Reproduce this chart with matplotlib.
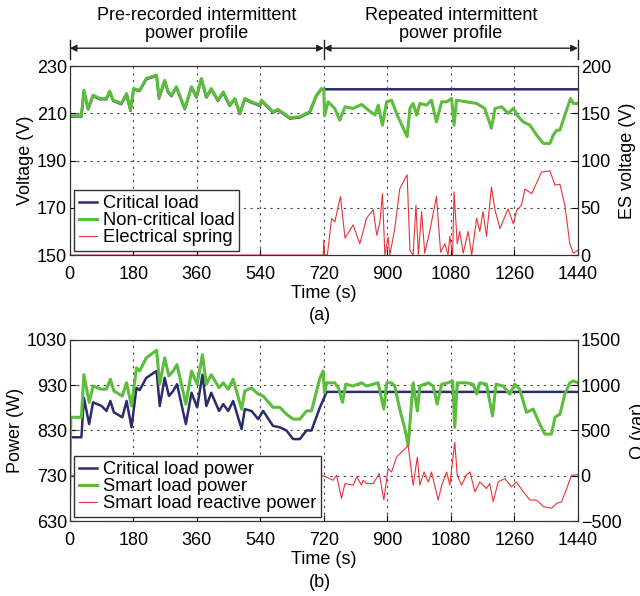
import matplotlib
matplotlib.use('Agg')
import matplotlib.pyplot as plt

plt.rcParams['font.family'] = ['Liberation Sans', 'DejaVu Sans']
plt.rcParams['font.size'] = 13

NAVY = '#2b2d6b'
GREEN = '#5cbc3c'
RED = '#e8323a'

# (a) voltages
t_nc = [0, 33, 40, 52, 66, 85, 104, 113, 123, 146, 161, 172, 181, 198, 217, 246, 253, 269, 279, 288,
        302, 326, 345, 359, 373, 387, 401, 420, 435, 453, 468, 482, 496, 515, 539, 543, 576, 590, 624,
        652, 680, 699, 713, 720,
        722, 732, 751, 765, 780, 803, 827, 846, 865, 874, 886, 898, 912, 926, 956, 964, 973, 983, 992,
        1011, 1025, 1039, 1054, 1068, 1082, 1089, 1096, 1124, 1153, 1176, 1195, 1205, 1224, 1242, 1257,
        1271, 1285, 1304, 1323, 1342, 1361, 1370, 1380, 1389, 1403, 1419, 1427, 1440]
v_nc = [209, 209, 219.8, 212, 217.7, 216.3, 216.3, 219.4, 215.6, 214.2, 218.4, 211.4, 220.5, 219.8, 224.8,
        226.2, 216.6, 224, 219.1, 217.6, 221.3, 212.1, 221.3, 217, 224.8, 217, 220.5, 215.6, 219.1, 213.5,
        216.3, 210, 216.3, 214.9, 213.5, 215.6, 210.7, 211.7, 208.1, 208.6, 210.7, 217.7, 220.5, 220.2,
        209, 214.9, 212.1, 207.1, 212.8, 212.1, 213.8, 211.4, 209.3, 213.5, 205, 214.9, 215.6, 210, 200.1,
        212.1, 214.2, 209.3, 214.2, 213.5, 215.6, 206.4, 214.9, 214.9, 216.3, 205, 215.6, 214.9, 214.2,
        212.1, 203.7, 212.1, 212.8, 210, 212.1, 208.6, 206.4, 205, 200.8, 197.3, 197.3, 200.8, 202.9,
        202.9, 209.3, 216.3, 214.2, 214.2]

t_cv = [0, 33, 40, 52, 66, 85, 104, 113, 123, 146, 161, 172, 181, 198, 217, 246, 253, 269, 279, 288,
        302, 326, 345, 359, 373, 387, 401, 420, 435, 453, 468, 482, 496, 515, 539, 543, 576, 590, 624,
        652, 680, 699, 713, 720, 1440]
v_cv = [208.7, 208.7, 219.5, 211.7, 217.4, 216, 216, 219.1, 215.3, 213.9, 218.1, 211.1, 220.2, 219.5, 224.5,
        225.9, 216.3, 223.7, 218.8, 217.3, 221, 211.8, 221, 216.7, 224.5, 216.7, 220.2, 215.3, 218.8, 213.2,
        216, 209.7, 216, 214.6, 213.2, 215.3, 210.4, 211.4, 207.8, 208.3, 210.4, 217.4, 220.2, 220.2, 220.2]

t_es = [0, 718, 720, 722, 730, 742, 751, 767, 780, 803, 822, 841, 860, 870, 879, 886, 893, 902, 907, 921,
        935, 956, 964, 973, 981, 988, 997, 1006, 1020, 1039, 1051, 1063, 1072, 1077, 1085, 1089, 1098,
        1105, 1115, 1129, 1139, 1153, 1162, 1171, 1181, 1195, 1205, 1219, 1242, 1257, 1266, 1280, 1290,
        1309, 1337, 1361, 1375, 1389, 1403, 1417, 1427, 1440]
es = [0, 0, 16, 0, 0, 39, 35, 62, 18, 32, 12, 39, 48, 21, 35, 65, 0, 19, 0, 28, 70, 85, 5, 0, 53, 0, 46, 2,
      25, 62, 3, 12, 0, 20, 0, 67, 12, 25, 2, 25, 0, 39, 25, 46, 20, 72, 48, 28, 49, 33, 47, 53, 70, 65,
      88, 89, 74, 75, 53, 12, 2, 5]

# (b) powers
t_cp = [0, 33, 40, 55, 66, 90, 104, 115, 125, 149, 161, 175, 189, 198, 217, 246, 255, 269, 281, 293, 304,
        329, 345, 361, 376, 387, 401, 423, 435, 449, 463, 487, 496, 515, 534, 548, 576, 595, 614, 633,
        652, 671, 685, 709, 728, 1440]
p_cp = [815, 815, 902, 844, 892, 884, 873, 895, 870, 859, 895, 837, 924, 919, 946, 961, 884, 946, 906, 917,
        932, 844, 913, 881, 953, 884, 913, 873, 888, 873, 895, 833, 877, 873, 855, 873, 840, 837, 830, 811,
        811, 830, 830, 881, 915, 915]

t_sp = [0, 3, 33, 40, 55, 66, 90, 104, 115, 125, 149, 161, 175, 189, 198, 217, 246, 255, 269, 281, 293,
        304, 329, 345, 361, 376, 387, 401, 423, 435, 449, 463, 487, 496, 515, 534, 548, 576, 595, 614,
        633, 652, 671, 685, 709, 718, 722, 728, 737, 751, 761, 773, 782, 803, 827, 841, 860, 874, 890,
        898, 912, 921, 935, 950, 959, 973, 985, 992, 1016, 1030, 1041, 1054, 1072, 1085, 1091, 1098,
        1124, 1143, 1153, 1162, 1181, 1198, 1208, 1228, 1247, 1261, 1275, 1294, 1313, 1332, 1346, 1365,
        1375, 1389, 1403, 1417, 1427, 1440]
p_sp = [687, 859, 859, 953, 892, 928, 921, 921, 943, 917, 906, 935, 884, 968, 961, 990, 1007, 932, 990, 950,
        961, 975, 888, 961, 932, 997, 932, 953, 924, 935, 921, 943, 877, 917, 924, 910, 906, 881, 881, 866,
        855, 855, 873, 873, 946, 961, 913, 935, 935, 935, 924, 892, 932, 928, 935, 928, 932, 935, 877,
        935, 935, 928, 877, 833, 797, 935, 873, 928, 935, 928, 888, 932, 935, 939, 837, 935,
        935, 932, 910, 935, 932, 862, 932, 928, 910, 932, 921, 870, 877, 844, 822, 822,
        859, 866, 910, 935, 939, 935]

t_q = [0, 720, 746, 756, 770, 780, 803, 813, 827, 831, 841, 860, 877, 890, 902, 912, 926, 945, 959, 973,
       985, 992, 1004, 1016, 1025, 1044, 1054, 1068, 1077, 1091, 1098, 1110, 1124, 1134, 1148, 1162, 1181,
       1190, 1200, 1214, 1233, 1252, 1266, 1285, 1304, 1323, 1342, 1365, 1380, 1394, 1408, 1422, 1440]
q = [0, 0, -49, 6, -249, -85, -103, -11, -103, -49, -85, -85, 25, -267, 79, 43, 207, 279, 334, -103, 207,
     -103, 43, -67, 43, -267, -103, 43, -103, 371, 6, -103, 6, 43, -176, -67, -140, -85, -285, -67, -30,
     -121, -67, -176, -267, -267, -339, -358, -303, -285, -140, 6, 13]

x_ticks = [0, 180, 360, 540, 720, 900, 1080, 1260, 1440]


def style_axes(ax, ax2):
    ax.set_xlim(0, 1440)
    ax.set_xticks(x_ticks)
    ax.grid(True, color='#444444', linestyle=(0, (2, 4)), linewidth=0.8)
    for a in (ax, ax2):
        a.tick_params(direction='in', length=4, pad=2)
        for s in a.spines.values():
            s.set_color('#333333')
    ax.tick_params(axis='x', pad=8)
    ax.set_xlabel('Time (s)', labelpad=1)


def add_legend(ax2, handles):
    leg = ax2.legend(handles=handles, loc='lower left', fontsize=13.2, handlelength=1.0,
                     handletextpad=0.3, labelspacing=0.0, borderpad=0.25, borderaxespad=0.25,
                     fancybox=False, framealpha=1, edgecolor='#333333')
    leg.get_frame().set_linewidth(1.0)


fig = plt.figure(figsize=(6.4, 5.96), dpi=100)

# (a)
ax1 = fig.add_axes([0.109, 0.572, 0.794, 0.317])
ax1b = ax1.twinx()
h1, = ax1.plot(t_cv, v_cv, color=NAVY, lw=1.8, label='Critical load')
h2, = ax1.plot(t_nc, v_nc, color=GREEN, lw=2.2, label='Non-critical load')
h3, = ax1b.plot(t_es, es, color=RED, lw=0.8, label='Electrical spring')
ax1.set_ylim(150, 230)
ax1.set_yticks([150, 170, 190, 210, 230])
ax1b.set_ylim(0, 200)
ax1b.set_yticks([0, 50, 100, 150, 200])
ax1.set_ylabel('Voltage (V)', labelpad=2)
ax1b.set_ylabel('ES voltage (V)', labelpad=6)
style_axes(ax1, ax1b)
add_legend(ax1b, [h1, h2, h3])

# header arrows
for x0, x1, txt in [(0, 720, 'Pre-recorded intermittent\npower profile'),
                    (720, 1440, 'Repeated intermittent\npower profile')]:
    ax1.annotate('', xy=(x0, 1.095), xytext=(x1, 1.095), xycoords=('data', 'axes fraction'),
                 arrowprops=dict(arrowstyle='<|-|>', color='#222222', lw=1.0, mutation_scale=10,
                                 shrinkA=0, shrinkB=0), annotation_clip=False)
    ax1.text((x0 + x1) / 2, 1.22, txt, transform=ax1.get_xaxis_transform(), ha='center', va='center',
             fontsize=13, linespacing=1.05)
for xv in x_ticks[::4]:
    ax1.plot([xv, xv], [1.04, 1.14], color='#222222', lw=1.0, transform=ax1.get_xaxis_transform(),
             clip_on=False)

# (b)
ax2 = fig.add_axes([0.109, 0.1255, 0.794, 0.3045])
ax2b = ax2.twinx()
g1, = ax2.plot(t_cp, p_cp, color=NAVY, lw=1.8, label='Critical load power')
g2, = ax2.plot(t_sp, p_sp, color=GREEN, lw=2.2, label='Smart load power')
g3, = ax2b.plot(t_q, q, color=RED, lw=0.8, label='Smart load reactive power')
ax2.set_ylim(630, 1030)
ax2.set_yticks([630, 730, 830, 930, 1030])
ax2b.set_ylim(-500, 1500)
ax2b.set_yticks([-500, 0, 500, 1000, 1500])
ax2b.set_yticklabels(['\u2212500', '0', '500', '1000', '1500'])
ax2.set_ylabel('Power (W)', labelpad=2)
ax2b.set_ylabel('Q (var)', labelpad=6)
style_axes(ax2, ax2b)
add_legend(ax2b, [g1, g2, g3])

fig.text(0.5, 0.470, '(a)', ha='center', va='center', fontsize=13)
fig.text(0.5, 0.023, '(b)', ha='center', va='center', fontsize=13)

fig.savefig('out.png', dpi=100)
